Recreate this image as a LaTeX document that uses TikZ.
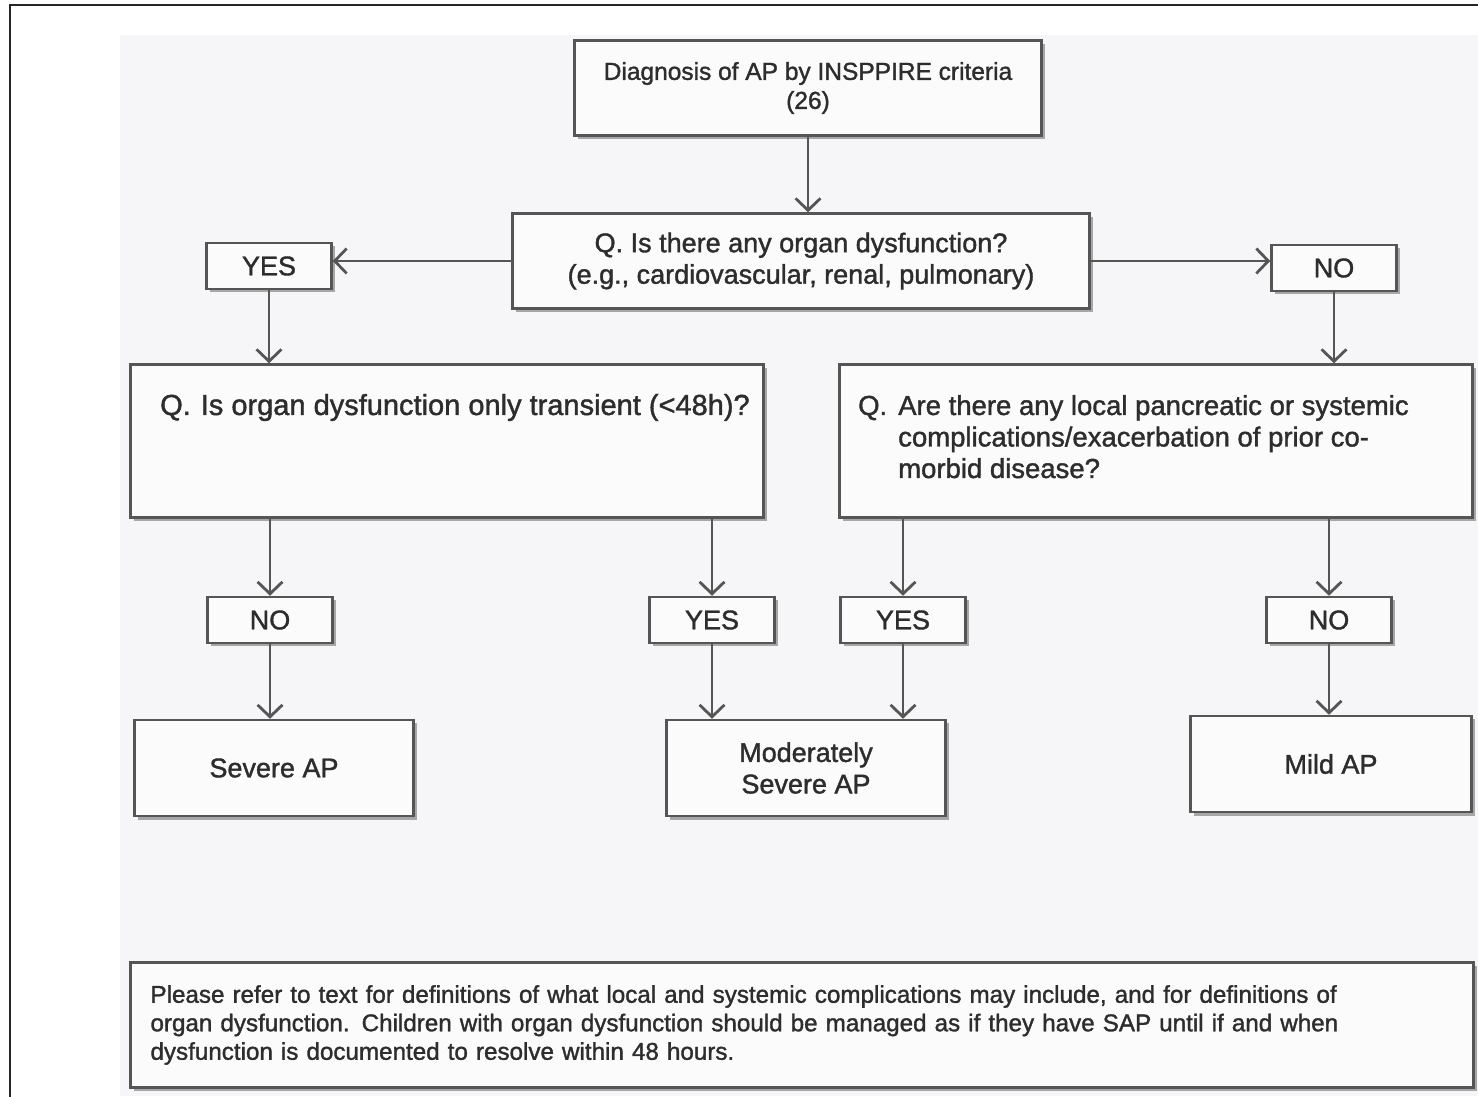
\documentclass[tikz,border=0pt]{standalone}
\usepackage{fontspec}
\setmainfont{Liberation Sans}[FakeBold=1.4]
\usetikzlibrary{arrows.meta, shapes, positioning, shadows}
\usepackage{xcolor}
\definecolor{boxgray}{RGB}{85,85,85}
\definecolor{txtgray}{RGB}{45,45,45}
\definecolor{bggray}{RGB}{246,246,248}
\definecolor{boxfill}{RGB}{251,251,252}

\begin{document}
\begin{tikzpicture}[
        x=1pt, y=1pt,
        line join=miter,
        flowbox/.style={shape=rectangle, draw=boxgray, fill=boxfill, line width=2.5pt, inner sep=0pt,
            drop shadow={shadow xshift=3pt, shadow yshift=-3.5pt, fill=black!55, opacity=0.6},
            text=txtgray, align=center, font=\fontsize{27}{31.5}\selectfont},
        answerbox/.style={flowbox, minimum width=125pt, minimum height=46pt},
        endbox/.style={flowbox, minimum width=279pt, minimum height=96pt},
        qtext/.style={text=txtgray, inner sep=0pt, font=\fontsize{27.5}{31.5}\selectfont},
        flowarrow/.style={draw=boxgray, line width=2.8pt, -{Straight Barb[length=12pt, width=25pt]}}
        ]

        %% Background
        \useasboundingbox (0,0) rectangle (1478,1096);
        \fill[white] (0,0) rectangle (1478,1096);
        \fill[bggray] (120,0) rectangle (1478,1061);
        \draw[black!85, line width=2pt] (10,-10) -- (10,1091) -- (1490,1091);

        %% Boxes
        \node[flowbox, minimum width=467pt, minimum height=95pt, font=\fontsize{24.5}{29}\selectfont] (diag) at (808,1008) {Diagnosis of AP by INSPPIRE criteria\\(26)};
        \node[flowbox, minimum width=577pt, minimum height=95pt] (organ) at (801,835) {Q. Is there any organ dysfunction?\\(e.g., cardiovascular, renal, pulmonary)};
        \node[answerbox] (yesorgan) at (269,830) {YES};
        \node[answerbox] (noorgan) at (1334,828) {NO};

        \node[flowbox, minimum width=633pt, minimum height=153pt] (transient) at (447,655) {};
        \node[qtext, anchor=base west, font=\fontsize{29}{31.5}\selectfont] (transienttxt) at (160,681) {Q.\hspace{10pt}Is organ dysfunction only transient (<48h)?};
        \node[flowbox, minimum width=633pt, minimum height=153pt] (local) at (1156,655) {};
        \node[qtext, anchor=base west] (localtxt) at (858,681) {\begin{tabular}[t]{@{}l@{\hspace{11pt}}l@{}}
            Q. & Are there any local pancreatic or systemic\\
               & complications/exacerbation of prior co-\\
               & morbid disease?
            \end{tabular}};

        \node[answerbox] (notrans) at (270,476) {NO};
        \node[answerbox] (yestrans) at (712,476) {YES};
        \node[answerbox] (yeslocal) at (903,476) {YES};
        \node[answerbox] (nolocal) at (1329,476) {NO};

        \node[endbox] (severe) at (274,328) {Severe AP};
        \node[endbox] (moderate) at (806,328) {Moderately\\Severe AP};
        \node[endbox, minimum width=281pt] (mild) at (1331,332) {Mild AP};

        \node[flowbox, minimum width=1343pt, minimum height=125pt, inner xsep=20pt, text width=1303pt, align=left,
            font=\fontsize{24.2}{28.5}\selectfont] (note) at (802,71) {Please refer to text for definitions of what local and systemic complications may include, and for definitions of\\organ dysfunction. Children with organ dysfunction should be managed as if they have SAP until if and when\\dysfunction is documented to resolve within 48 hours.};

        %% Arrows
        \draw[flowarrow] (diag.south) -- (diag.south |- organ.north);
        \draw[flowarrow] (organ.west) -- (yesorgan.east |- organ.west);
        \draw[flowarrow] (organ.east) -- (noorgan.west |- organ.east);
        \draw[flowarrow] (yesorgan.south) -- (yesorgan.south |- transient.north);
        \draw[flowarrow] (noorgan.south) -- (noorgan.south |- local.north);
        \draw[flowarrow] (transient.south -| notrans) -- (notrans.north);
        \draw[flowarrow] (transient.south -| yestrans) -- (yestrans.north);
        \draw[flowarrow] (local.south -| yeslocal) -- (yeslocal.north);
        \draw[flowarrow] (local.south -| nolocal) -- (nolocal.north);
        \draw[flowarrow] (notrans.south) -- (notrans.south |- severe.north);
        \draw[flowarrow] (yestrans.south) -- (yestrans.south |- moderate.north);
        \draw[flowarrow] (yeslocal.south) -- (yeslocal.south |- moderate.north);
        \draw[flowarrow] (nolocal.south) -- (nolocal.south |- mild.north);
\end{tikzpicture}
\end{document}
